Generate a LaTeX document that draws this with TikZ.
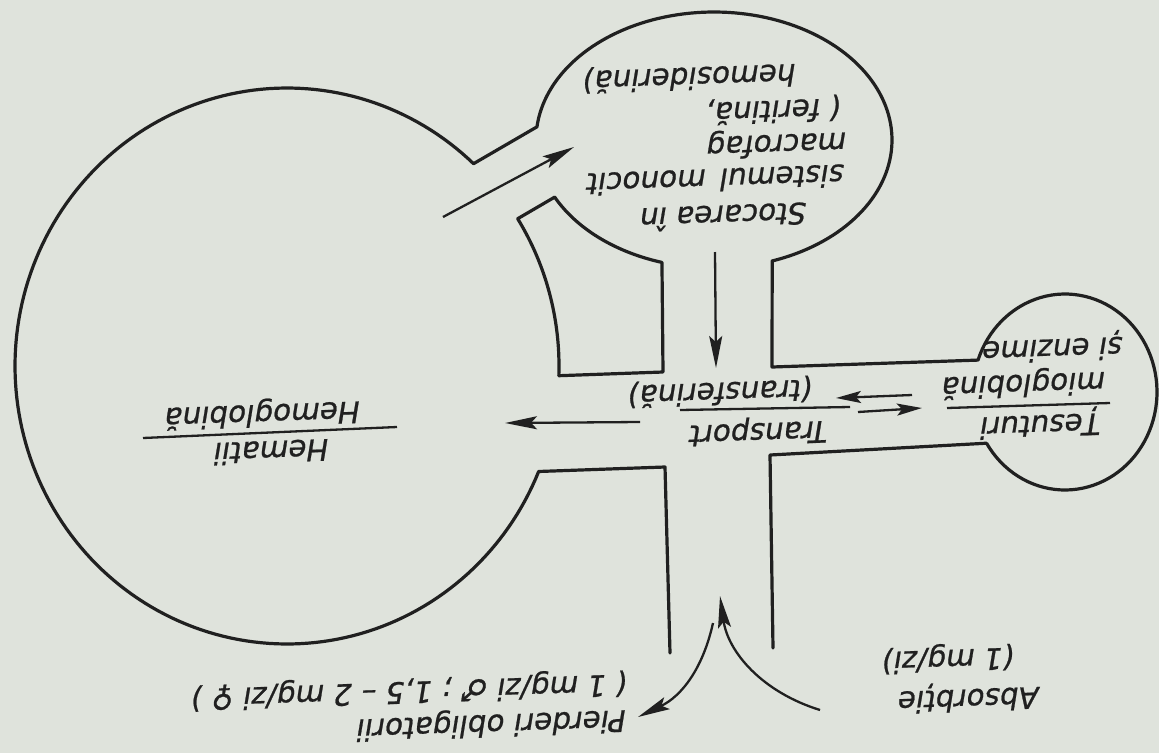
\documentclass[tikz,border=0pt]{standalone}
\usepackage{fontspec}
\setmainfont{DejaVu Sans}
\newfontfamily\lblfont[FakeSlant=0.2,FakeBold=0.8]{DejaVu Sans}
\newfontfamily\symfont[FakeSlant=0.2,FakeBold=0.8]{DejaVu Sans}
\usetikzlibrary{arrows.meta}
\definecolor{paper}{RGB}{223,227,220}
\definecolor{ink}{RGB}{32,32,32}
\tikzset{
  outline/.style={draw=ink, line width=3.2pt, line join=round, line cap=round},
  flow/.style={draw=ink, line width=2.3pt, -{Stealth[length=32pt,width=13pt,inset=6pt]}},
  smallflow/.style={draw=ink, line width=2.3pt, -{Stealth[length=25pt,width=12pt,inset=5pt]}},
  rulestyle/.style={draw=ink, line width=2.3pt},
  lbl/.style={text=ink, font=\lblfont\fontsize{29.5}{34}\selectfont, rotate=182, inner sep=0pt},
}
\begin{document}
\begin{tikzpicture}[x=1pt,y=-1pt]
\fill[paper] (0,0) rectangle (1159,753);
\useasboundingbox (0,0) rectangle (1159,753);

% outer contour: lower stalk right wall, corridor, tissue, storage, Hematii
\draw[outline] (773,648) -- (770,455) -- (986.6,443.2)
  -- plot[domain=148.5:-161, samples=90] ({1065+92*cos(\x)},{392+98*sin(\x)})
  -- (772,367) -- (772.2,261)
  -- plot[domain=70.9:-174.1, samples=120] ({714+178*cos(\x)},{140+128*sin(\x)})
  -- (473.5,163.7)
  -- plot[domain=-46.7:-337.7, samples=180] ({287+272*cos(\x)},{366+278*sin(\x)})
  -- (665,467) -- (670,653);

% inner block between Hematii neck and storage stalk
\draw[outline] (517.7,218.7) -- (554.7,197.1)
  -- plot[domain=153.5:107, samples=40] ({714+178*cos(\x)},{140+128*sin(\x)})
  -- (663,372) -- (558.8,375.7)
  -- plot[domain=2:-32, samples=40] ({287+272*cos(\x)},{366+278*sin(\x)})
  -- cycle;

% flows
\coordinate (hs1) at (443,217); \coordinate (hs2) at (574,147);
\draw[flow] (hs1) -- (hs2);
\coordinate (st1) at (715,252); \coordinate (st2) at (716,368);
\draw[flow] (st1) -- (st2);
\coordinate (th1) at (640,422); \coordinate (th2) at (505,423);
\draw[flow] (th1) -- (th2);
\coordinate (tt1) at (912,395); \coordinate (tt2) at (836,398);
\draw[smallflow] (tt1) -- (tt2);
\coordinate (tr1) at (858,412); \coordinate (tr2) at (922,408);
\draw[smallflow] (tr1) -- (tr2);
\coordinate (ab1) at (820,710); \coordinate (ab2) at (720,596);
\draw[flow] (ab1) .. controls (762,692) and (728,652) .. (ab2);
\coordinate (lo1) at (713,623); \coordinate (lo2) at (638,717);
\draw[flow] (lo1) .. controls (703,668) and (682,696) .. (lo2);

% storage labels
\node[lbl] (s1) at (725,217) {Stocarea în};
\node[lbl] (s2) at (717,180) {sistemul\hspace{14pt}monocit};
\node[lbl] (s3) at (778,143) {macrofag};
\node[lbl] (s4) at (775,110) {( feritină,};
\node[lbl] (s5) at (691,77) {hemosiderină)};

% tissue labels
\node[lbl] (t1) at (1042,423) {Țesuturi};
\coordinate (tra) at (947,408); \coordinate (trb) at (1110,403);
\draw[rulestyle] (tra) -- (trb);
\node[lbl] (t2) at (1025,383) {mioglobină};
\node[lbl] (t3) at (1054,347) {și enzime};

% transport labels
\node[lbl] (p1) at (760,431) {Transport};
\coordinate (pra) at (680,410); \coordinate (prb) at (850,407);
\draw[rulestyle] (pra) -- (prb);
\node[lbl] (p2) at (722,392) {(transferină)};

% Hematii labels
\node[lbl] (h1) at (273,452) {Hematii};
\coordinate (hra) at (143,438); \coordinate (hrb) at (397,427);
\draw[rulestyle] (hra) -- (hrb);
\node[lbl] (h2) at (264,413) {Hemoglobină};

% losses
\node[lbl] (l1) at (493,723) {Pierderi obligatorii};
\node[lbl] (l2) at (411,690) {( 1 mg/zi {\symfont ♂} ; 1,5 – 2 mg/zi {\symfont ♀} )};

% absorption
\node[lbl] (a1) at (970,697) {Absorbție};
\node[lbl] (a2) at (950,658) {(1 mg/zi)};
\end{tikzpicture}
\end{document}
